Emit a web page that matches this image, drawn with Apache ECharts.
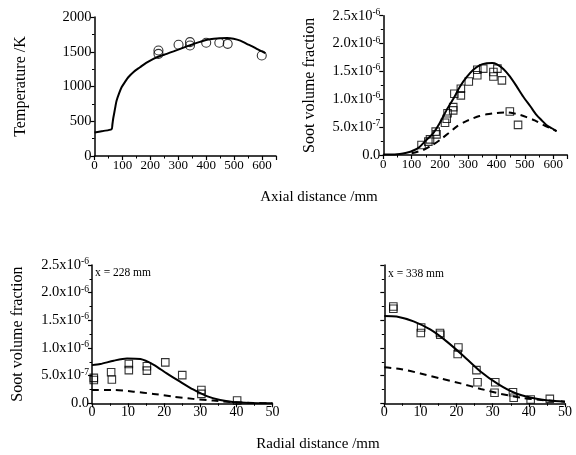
<!DOCTYPE html>
<html>
<head>
<meta charset="utf-8">
<script src="https://cdn.jsdelivr.net/npm/echarts@6/dist/echarts.min.js"></script>
<style>html,body{margin:0;padding:0;background:#fff}#c{width:576px;height:455px}</style>
</head>
<body>
<div id="c"></div>
<script>
// ---- Panel 1: axial temperature ----
var tempLineX = [0, 30, 61, 64, 67, 71, 75, 79, 88, 97, 110, 121, 140, 163, 185, 211, 235, 259, 283, 307, 331, 355, 380, 403, 427, 450, 475, 498, 522, 545, 565, 581, 600, 612];
var tempLineY = [337, 360, 385, 450, 540, 626, 715, 795, 900, 988, 1070, 1133, 1210, 1277, 1340, 1398, 1438, 1470, 1505, 1542, 1578, 1614, 1645, 1672, 1688, 1696, 1698, 1687, 1660, 1614, 1577, 1542, 1505, 1480];
var tempExpX = [229, 229, 301, 342, 342, 400, 447, 477, 599];
var tempExpY = [1518, 1470, 1600, 1639, 1590, 1629, 1629, 1614, 1446];
var tempTickValues = [0, 500, 1000, 1500, 2000];

// ---- Panel 2: axial soot volume fraction (units of 1e-6) ----
var sootAxSolidX = [0, 40, 82, 110, 129, 150, 176, 200, 224, 250, 271, 295, 318, 340, 365, 385, 400, 425, 447, 470, 494, 520, 541, 560, 576, 595, 612];
var sootAxSolidY = [0.01, 0.01, 0.04, 0.09, 0.15, 0.26, 0.39, 0.58, 0.81, 1.03, 1.23, 1.40, 1.53, 1.61, 1.645, 1.65, 1.63, 1.54, 1.41, 1.24, 1.05, 0.87, 0.72, 0.62, 0.54, 0.48, 0.43];
var sootAxDashX = [100, 141, 170, 200, 230, 259, 290, 318, 340, 365, 390, 412, 435, 459, 483, 506, 535, 565, 590, 612];
var sootAxDashY = [0.03, 0.09, 0.17, 0.27, 0.39, 0.51, 0.60, 0.66, 0.70, 0.73, 0.75, 0.76, 0.765, 0.75, 0.72, 0.68, 0.62, 0.54, 0.48, 0.43];
var sootAxExpX = [135, 159, 165, 185, 188, 218, 224, 227, 247, 247, 251, 274, 274, 302, 332, 332, 353, 389, 389, 403, 419, 447, 476];
var sootAxExpY = [0.18, 0.24, 0.28, 0.42, 0.37, 0.58, 0.65, 0.75, 0.80, 0.86, 1.10, 1.19, 1.07, 1.32, 1.53, 1.43, 1.55, 1.49, 1.41, 1.55, 1.34, 0.78, 0.54];

// ---- Panel 3: radial soot at x = 228 mm ----
var rad228SolidX = [0, 2.3, 6, 9.7, 13.4, 17, 20.7, 24.4, 28, 31.8, 35.5, 39, 43.7, 50];
var rad228SolidY = [0.69, 0.71, 0.77, 0.81, 0.80, 0.70, 0.54, 0.39, 0.25, 0.13, 0.06, 0.025, 0.006, 0];
var rad228DashX = [0, 6, 11.5, 17, 22.6, 28, 33.6, 39, 44.7, 50];
var rad228DashY = [0.24, 0.24, 0.21, 0.17, 0.12, 0.08, 0.05, 0.02, 0.006, 0];
var rad228ExpX = [0.5, 0.5, 5.3, 5.5, 10.2, 10.2, 15.2, 15.2, 20.3, 25, 30.3, 30.3, 40.2];
var rad228ExpY = [0.42, 0.46, 0.56, 0.43, 0.71, 0.60, 0.67, 0.59, 0.74, 0.51, 0.24, 0.17, 0.05];

// ---- Panel 4: radial soot at x = 338 mm ----
var rad338SolidX = [0, 3.4, 8.1, 12.8, 17.4, 22, 26.7, 31.4, 36, 40.7, 45.3, 50];
var rad338SolidY = [1.58, 1.57, 1.48, 1.33, 1.11, 0.85, 0.57, 0.35, 0.19, 0.10, 0.05, 0.03];
var rad338DashX = [0, 4.4, 10, 15.5, 21.1, 26.7, 32.3, 37.9, 43.5, 50];
var rad338DashY = [0.65, 0.62, 0.54, 0.45, 0.36, 0.26, 0.17, 0.10, 0.06, 0.03];
var rad338ExpX = [2.5, 2.5, 10.2, 10.1, 15.4, 15.5, 20.5, 20.3, 25.5, 25.8, 30.7, 30.5, 35.6, 35.8, 40.5, 45.8];
var rad338ExpY = [1.75, 1.71, 1.37, 1.27, 1.27, 1.24, 1.01, 0.89, 0.60, 0.38, 0.38, 0.19, 0.20, 0.10, 0.07, 0.08];

// ---- tick labels ----
var sootTickValues = [0, 0.5, 1.0, 1.5, 2.0, 2.5];
var sootTickMant = ['0.0', '5.0x10', '1.0x10', '1.5x10', '2.0x10', '2.5x10'];
var sootTickExp = ['', '-7', '-6', '-6', '-6', '-6'];

var FONT = '"Liberation Serif", "Times New Roman", serif';

function zip(xs, ys) { return xs.map(function (x, i) { return [x, ys[i]]; }); }

function sootFmt(v) {
  for (var i = 0; i < sootTickValues.length; i++) {
    if (Math.abs(v - sootTickValues[i]) < 1e-9) {
      if (!sootTickExp[i]) return '{m|' + sootTickMant[i] + '}';
      return '{m|' + sootTickMant[i] + '}{s|' + sootTickExp[i] + '}';
    }
  }
  return '';
}
function tempFmt(v) {
  return tempTickValues.indexOf(v) >= 0 ? String(v) : '';
}
var richSoot = {
  m: { fontFamily: FONT, fontSize: 14.5, color: '#000', lineHeight: 17 },
  s: { fontFamily: FONT, fontSize: 9.5, color: '#000', verticalAlign: 'top', lineHeight: 9 }
};

function baseAxis(extra) {
  var a = {
    type: 'value',
    axisLine: { show: true, onZero: false, lineStyle: { color: '#000', width: 1.5 } },
    axisTick: { show: true, inside: false, length: 4, lineStyle: { color: '#000', width: 1.2 } },
    minorTick: { show: true, splitNumber: 2, length: 2.5, lineStyle: { color: '#000', width: 1 } },
    splitLine: { show: false },
    minorSplitLine: { show: false },
    nameTextStyle: { color: '#000', fontFamily: FONT, fontSize: 16 }
  };
  for (var k in extra) a[k] = extra[k];
  return a;
}

var grids = [
  { left: 94.5, top: 17, width: 181.5, height: 139 },
  { left: 383.3, top: 15.7, width: 184, height: 139.3 },
  { left: 92, top: 265, width: 180.5, height: 138.3 },
  { left: 384.3, top: 265, width: 180.7, height: 138.3 }
];

var xLabel = { color: '#000', fontFamily: FONT, fontSize: 13, margin: 3, showMaxLabel: false };
var xLabelR = { color: '#000', fontFamily: FONT, fontSize: 14, margin: 2 };

var xAxes = [
  baseAxis({ gridIndex: 0, min: 0, max: 650, interval: 100, axisLabel: xLabel }),
  baseAxis({ gridIndex: 1, min: 0, max: 650, interval: 100, axisLabel: xLabel }),
  baseAxis({ gridIndex: 2, min: 0, max: 50, interval: 10, axisLabel: xLabelR }),
  baseAxis({ gridIndex: 3, min: 0, max: 50, interval: 10, axisLabel: xLabelR })
];

var yAxes = [
  baseAxis({ gridIndex: 0, min: 0, max: 2000, interval: 500,
    name: 'Temperature /K', nameLocation: 'middle', nameGap: 66,
    axisLabel: { color: '#000', fontFamily: FONT, fontSize: 14.5, margin: 3, formatter: tempFmt } }),
  baseAxis({ gridIndex: 1, min: 0, max: 2.5, interval: 0.5,
    name: 'Soot volume fraction', nameLocation: 'middle', nameGap: 66,
    axisLabel: { formatter: sootFmt, rich: richSoot, margin: 3 } }),
  baseAxis({ gridIndex: 2, min: 0, max: 2.5, interval: 0.5,
    name: 'Soot volume fraction', nameLocation: 'middle', nameGap: 66,
    axisLabel: { formatter: sootFmt, rich: richSoot, margin: 3 } }),
  baseAxis({ gridIndex: 3, min: 0, max: 2.5, interval: 0.5,
    axisLabel: { show: false } })
];

function lineS(xi, data, dashed) {
  return {
    type: 'line', xAxisIndex: xi, yAxisIndex: xi, data: data,
    showSymbol: false, smooth: 0.25, silent: true, z: 3,
    lineStyle: { color: '#000', width: 2, type: dashed ? [7, 5] : 'solid' }
  };
}
function scatS(xi, data, sym, size) {
  return {
    type: 'scatter', xAxisIndex: xi, yAxisIndex: xi, data: data,
    symbol: sym, symbolSize: size, silent: true, z: 2,
    itemStyle: { color: 'rgba(255,255,255,0)', borderColor: '#000', borderWidth: 1.1 }
  };
}

var series = [
  lineS(0, zip(tempLineX, tempLineY), false),
  scatS(0, zip(tempExpX, tempExpY), 'circle', 9),
  lineS(1, zip(sootAxSolidX, sootAxSolidY), false),
  lineS(1, zip(sootAxDashX, sootAxDashY), true),
  scatS(1, zip(sootAxExpX, sootAxExpY), 'rect', 7.5),
  lineS(2, zip(rad228SolidX, rad228SolidY), false),
  lineS(2, zip(rad228DashX, rad228DashY), true),
  scatS(2, zip(rad228ExpX, rad228ExpY), 'rect', 7.5),
  lineS(3, zip(rad338SolidX, rad338SolidY), false),
  lineS(3, zip(rad338DashX, rad338DashY), true),
  scatS(3, zip(rad338ExpX, rad338ExpY), 'rect', 7.5)
];

var chart = echarts.init(document.getElementById('c'), null, { renderer: 'canvas' });
chart.setOption({
  backgroundColor: '#fff',
  animation: false,
  grid: grids,
  xAxis: xAxes,
  yAxis: yAxes,
  series: series,
  graphic: [
    { type: 'text', x: 319, y: 197, style: { text: 'Axial distance /mm', font: '15px ' + FONT, fill: '#000', textAlign: 'center', textVerticalAlign: 'middle' } },
    { type: 'text', x: 318, y: 444, style: { text: 'Radial distance /mm', font: '15px ' + FONT, fill: '#000', textAlign: 'center', textVerticalAlign: 'middle' } },
    { type: 'text', x: 95, y: 273, style: { text: 'x = 228 mm', font: '11.5px ' + FONT, fill: '#000', textAlign: 'left', textVerticalAlign: 'middle' } },
    { type: 'text', x: 388, y: 274, style: { text: 'x = 338 mm', font: '11.5px ' + FONT, fill: '#000', textAlign: 'left', textVerticalAlign: 'middle' } }
  ]
});
</script>
</body>
</html>
